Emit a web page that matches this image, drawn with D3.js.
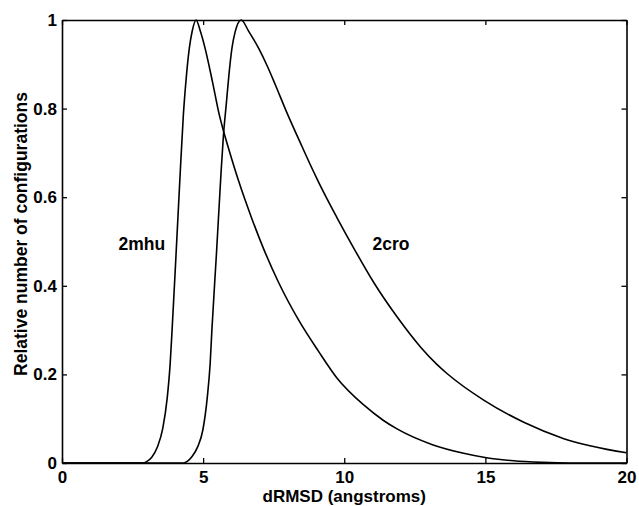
<!DOCTYPE html>
<html>
<head>
<meta charset="utf-8">
<script src="https://cdn.jsdelivr.net/npm/d3@7"></script>
<style>
  html, body { margin: 0; padding: 0; background: #fff; }
  svg text { font-family: "Liberation Sans", Arial, sans-serif; font-weight: bold; fill: #000; }
</style>
</head>
<body>
<div id="chart"></div>
<script>
'use strict';

// Values (dRMSD in angstroms, relative count)
const mhuX = [0, 2.85, 3.0, 3.18, 3.38, 3.57, 3.73, 3.83, 3.90, 4.04, 4.18, 4.30, 4.39, 4.51, 4.61, 4.75,
    4.90, 5.07, 5.33, 5.58, 5.72, 5.92, 6.25, 6.73, 7.14, 7.67, 8.38, 9.09, 9.74, 10.69, 11.39,
    11.87, 13.1, 14.23, 14.94, 16.0, 17.0, 18.0, 20];
const mhuY = [0, 0, 0.003, 0.013, 0.036, 0.078, 0.148, 0.222, 0.300, 0.47, 0.645, 0.786, 0.861, 0.936, 0.974, 1.0,
    0.975, 0.936, 0.861, 0.784, 0.750, 0.706, 0.638, 0.551, 0.484, 0.408, 0.323, 0.252, 0.192, 0.131, 0.096,
    0.077, 0.042, 0.022, 0.013, 0.005, 0.0015, 0, 0];

const croX = [0, 4.30, 4.45, 4.60, 4.81, 4.99, 5.15, 5.25, 5.31, 5.47, 5.63, 5.72, 5.82, 5.92, 6.02, 6.13, 6.35,
    6.61, 6.96, 7.28, 7.55, 7.94, 8.50, 8.91, 9.09, 9.74, 10.39, 11.04, 11.87, 12.70, 13.29, 13.64,
    14.94, 16.36, 17.78, 20];
const croY = [0, 0, 0.004, 0.014, 0.037, 0.0745, 0.150, 0.225, 0.300, 0.47, 0.650, 0.74, 0.81, 0.88, 0.936, 0.972, 1.0,
    0.975, 0.937, 0.895, 0.855, 0.795, 0.715, 0.658, 0.634, 0.554, 0.479, 0.408, 0.330, 0.262, 0.222, 0.202,
    0.142, 0.092, 0.055, 0.023];

const xTicks = [0, 5, 10, 15, 20];
const yTicks = [0, 0.2, 0.4, 0.6, 0.8, 1];
const yTickLabels = ["0", "0.2", "0.4", "0.6", "0.8", "1"];

const seriesNames = ["2mhu", "2cro"];
const seriesLabelX = [2, 11];
const seriesLabelY = [0.48, 0.48];

const xTitle = "dRMSD (angstroms)";
const yTitle = "Relative number of configurations";

const drawChart = () => {
    const width = 639, height = 506;
    const left = 62, right = 626.5, top = 20, bottom = 463;

    const svg = d3.select("#chart")
        .append("svg")
        .attr("width", width)
        .attr("height", height);

    const x = d3.scaleLinear().domain([0, 20]).range([left, right]);
    const y = d3.scaleLinear().domain([0, 1]).range([bottom, top]);

    // axes on all four sides, ticks pointing in
    const fontSize = "17px";
    const labelSize = "17.5px";
    const styleAxis = (g) => {
        g.select(".domain").attr("stroke", "#000").attr("stroke-width", 1.6).attr("fill", "none");
        g.selectAll(".tick line").attr("stroke", "#000").attr("stroke-width", 1.3);
        g.selectAll(".tick text").style("font-size", fontSize).attr("fill", "#000");
    };

    svg.append("g")
        .attr("transform", "translate(0," + bottom + ")")
        .call(d3.axisBottom(x).tickValues(xTicks).tickSizeInner(-5).tickSizeOuter(0).tickPadding(7.5)
            .tickFormat(d3.format("d")))
        .call(styleAxis);

    svg.append("g")
        .attr("transform", "translate(0," + top + ")")
        .call(d3.axisTop(x).tickValues(xTicks).tickSizeInner(-5).tickSizeOuter(0).tickFormat(""))
        .call(styleAxis);

    svg.append("g")
        .attr("transform", "translate(" + left + ",0)")
        .call(d3.axisLeft(y).tickValues(yTicks).tickSizeInner(-5).tickSizeOuter(0).tickPadding(5)
            .tickFormat((d, i) => yTickLabels[i]))
        .call(styleAxis);

    svg.append("g")
        .attr("transform", "translate(" + right + ",0)")
        .call(d3.axisRight(y).tickValues(yTicks).tickSizeInner(-5).tickSizeOuter(0).tickFormat(""))
        .call(styleAxis);

    // curves
    const line = d3.line()
        .x((d) => x(d[0]))
        .y((d) => y(d[1]))
        .curve(d3.curveMonotoneX);

    const series = [d3.zip(mhuX, mhuY), d3.zip(croX, croY)];

    svg.selectAll("path.curve")
        .data(series)
        .enter()
        .append("path")
        .attr("class", "curve")
        .attr("fill", "none")
        .attr("stroke", "#000")
        .attr("stroke-width", 1.6)
        .attr("stroke-linejoin", "round")
        .attr("d", line);

    // series labels
    svg.selectAll("text.name")
        .data(seriesNames)
        .enter()
        .append("text")
        .attr("class", "name")
        .attr("x", (d, i) => x(seriesLabelX[i]))
        .attr("y", (d, i) => y(seriesLabelY[i]))
        .style("font-size", labelSize)
        .text((d) => d);

    // axis titles
    svg.append("text")
        .attr("x", x(10))
        .attr("y", 502)
        .style("text-anchor", "middle")
        .style("font-size", fontSize)
        .text(xTitle);

    svg.append("text")
        .attr("transform", "translate(27," + 234 + ") rotate(-90)")
        .style("text-anchor", "middle")
        .style("font-size", labelSize)
        .text(yTitle);
}

drawChart();
</script>
</body>
</html>
